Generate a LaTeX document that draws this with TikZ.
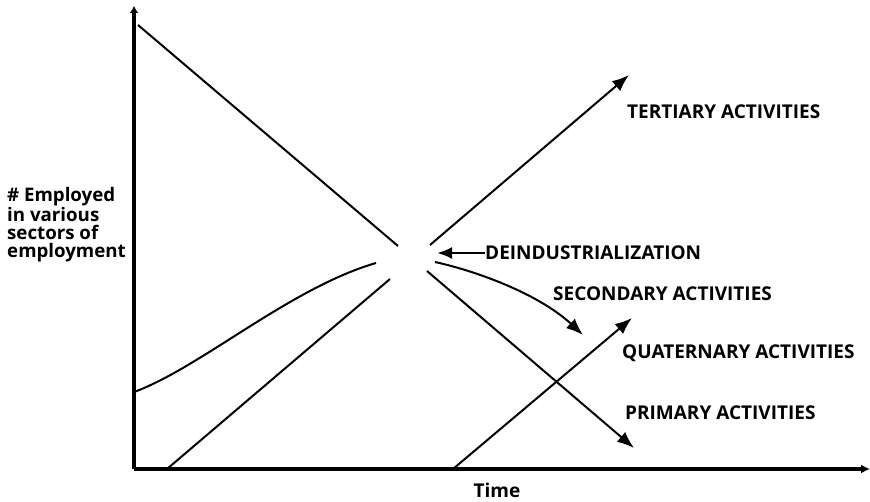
\documentclass[tikz,border=0pt]{standalone}
\usepackage{fontspec}
\setmainfont{Open Sans}
\usetikzlibrary{arrows.meta}
\begin{document}
\begin{tikzpicture}[x=1pt,y=-1pt,
  axis/.style={line width=3.6pt},
  curveline/.style={line width=2pt},
  bigtip/.style={-{Latex[length=17pt,width=13pt]}},
  lbl/.style={font=\fontsize{19}{22}\selectfont\bfseries, inner sep=0pt, anchor=west},
  ylbl/.style={font=\fontsize{18.7}{18}\selectfont\bfseries, inner sep=0pt, align=left, anchor=north west}]
\useasboundingbox (0,0) rectangle (870,502);

% axes
\coordinate (origin) at (134,469);
\coordinate (ytop) at (134,6);
\coordinate (xend) at (870,469);
\draw[axis, -{Latex[length=7pt,width=9pt]}] (origin) -- (ytop);
\draw[axis, -{Latex[length=9pt,width=9pt]}] (origin) -- (xend);

% primary activities (falling line, broken at the crossing)
\coordinate (p0) at (138,25);
\coordinate (p1) at (398,246);
\coordinate (p2) at (427,271);
\coordinate (p3) at (634,448);
\draw[curveline] (p0) -- (p1);
\draw[curveline, bigtip] (p2) -- (p3);

% tertiary activities (rising line, broken at the crossing)
\coordinate (t0) at (167,469);
\coordinate (t1) at (390,279);
\coordinate (t2) at (430,245);
\coordinate (t3) at (629,75);
\draw[curveline] (t0) -- (t1);
\draw[curveline, bigtip] (t2) -- (t3);

% secondary activities (rising then falling curve)
\coordinate (s0) at (134,392);
\coordinate (s1) at (376,263);
\coordinate (s2) at (435,262);
\coordinate (s3) at (583,335);
\draw[curveline] (s0) .. controls (200,368) and (290,288) .. (s1);
\draw[curveline, bigtip] (s2) .. controls (480,272) and (540,295) .. (s3);

% quaternary activities
\coordinate (q0) at (453,469);
\coordinate (q1) at (632,318);
\draw[curveline, bigtip] (q0) -- (q1);

% labels
\node[ylbl] (ylabel) at (7,187) {\# Employed\\in various\\sectors of\\employment};
\node[lbl] (tert) at (627,112) {TERTIARY ACTIVITIES};
\node[lbl] (deind) at (485,253) {DEINDUSTRIALIZATION};
\node[lbl] (sec) at (553,294) {SECONDARY ACTIVITIES};
\node[lbl] (quat) at (622,353) {QUATERNARY ACTIVITIES};
\node[lbl] (prim) at (625,413) {PRIMARY ACTIVITIES};
\node[lbl, anchor=center] (time) at (497,490) {Time};

\coordinate (deindtip) at (437,253);
\draw[line width=2.6pt, -{Latex[length=15pt,width=12pt]}] (deind.west) -- (deindtip);
\end{tikzpicture}
\end{document}
